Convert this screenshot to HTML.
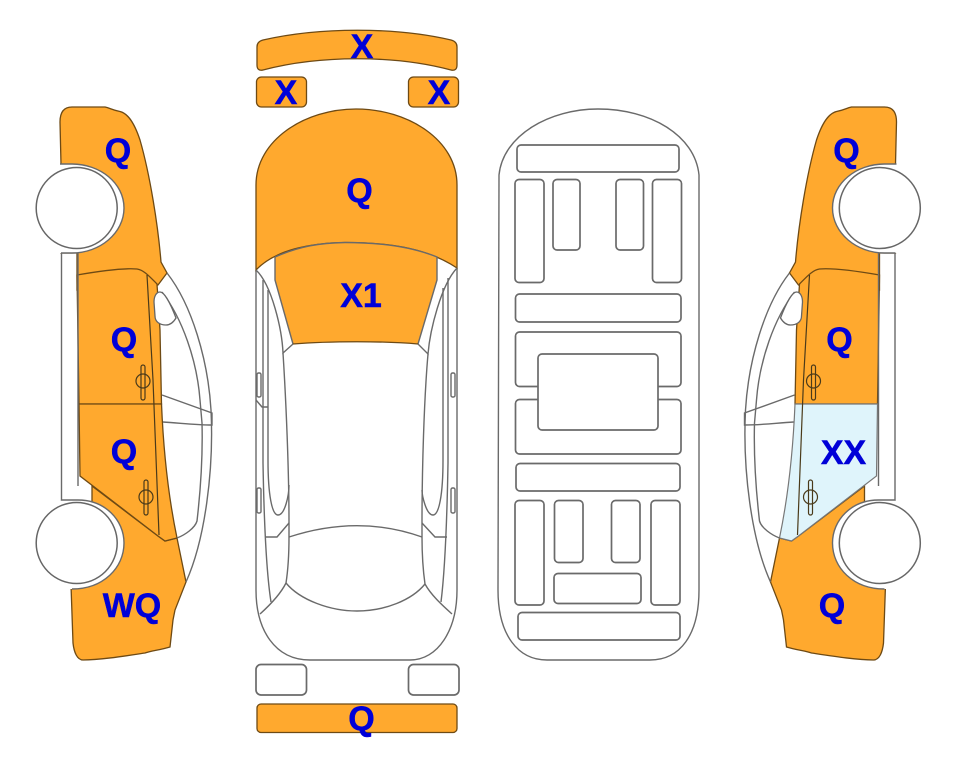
<!DOCTYPE html>
<html><head><meta charset="utf-8"><style>
html,body{margin:0;padding:0;background:#fff}
svg{display:block}
text{font-family:"Liberation Sans",Arial,sans-serif;font-weight:bold;font-size:34px;fill:#0000d8;stroke:#0000d8;stroke-width:.5;text-anchor:middle}
.o{fill:#ffa92e;stroke:#6e4a14;stroke-width:1.3}
.n{fill:#ffa92e;stroke:none}
.b{fill:#dff4fb;stroke:#777;stroke-width:1.2}
.l{fill:none;stroke:#6a6a6a;stroke-width:1.4}
.w{fill:#fff;stroke:#666;stroke-width:1.5}
.g{fill:#fff;stroke:#6a6a6a;stroke-width:1.7}
.d{fill:none;stroke:#4a3a1a;stroke-width:1.2}
</style></head><body>
<svg width="963" height="768" viewBox="0 0 963 768" xmlns="http://www.w3.org/2000/svg">
<defs>
<path id="front" d="M61,164 L60,122 C60,112 64,107 72,107 L105,107 C110,108 112,110 120,111.500 C130,114 136,128 140,140 C150,175 158,225 161,262 L167,273 L158,285 L77,290 L77,253 L61,253 Z"/>
<path id="door1" d="M77,275 C100,271 125,268 137,269 C144,270 150,277 157,284 L160,330 L161.500,404 L79,404 Z"/>
<path id="door2" d="M79,404 L161.500,404 C163,440 167,490 177,538 L165,541 L158,536 L80,476 Z"/>
<path id="rear" d="M92,486 L158,536 L165,541 L177,538 L186,582 L175,610 L173,620 L170,647 C160,650 150,651 145,653 C125,656 100,660 83,660 C77,660 74,652 73,643 L71,585 L92,540 Z"/>
<g id="lines">
<path class="l" d="M61.500,253 V501 M78,253 V486"/>
<path class="l" d="M167,273 C192,305 208,360 211,410 C214,470 205,540 186,582"/>
<path class="l" d="M162,292 C182,318 197,360 200,400 L202,423"/>
<path class="l" d="M202,423 C203,460 200,495 197,521 C195,528 185,535 177,538"/>
<path class="l" d="M162,395 L212,413 V425 C195,425 180,423 163,422"/>
<path d="M160,292 C164,292 170,302 176,318 C173,323 170,325 166,325 C160,325 155,322 155,316 L154,302 C154,297 156,292 160,292 Z" fill="#fff" stroke="#666" stroke-width="1.300"/>
<path class="d" d="M147,275 L153,380 L159,535"/>
<rect class="d" x="141" y="365" width="4" height="35" rx="2"/>
<circle class="d" cx="143" cy="381" r="7"/>
<rect class="d" x="144" y="480" width="4" height="35" rx="2"/>
<circle class="d" cx="146" cy="497" r="7"/>
<path d="M60,164 H72 C100,164 124,183 124,208 C124,233 100,253 72,253 H60 Z" fill="#fff" stroke="none"/>
<path class="l" d="M60,164 H72 C100,164 124,183 124,208 C124,233 100,253 72,253 H61"/>
<path d="M61,500 H78 C105,500 124,520 124,543 C124,568 103,589 72,589 H61 Z" fill="#fff" stroke="none"/>
<path class="l" d="M61,500 H78 C105,500 124,520 124,543 C124,568 103,589 72,589"/>
<circle class="w" cx="76.700" cy="208" r="40.500"/>
<circle class="w" cx="76.700" cy="543" r="40.500"/>
</g>
</defs>

<!-- left side view -->
<use href="#front" class="o"/><use href="#rear" class="o"/><use href="#door1" class="o"/><use href="#door2" class="o"/>
<use href="#lines"/>

<!-- right side view -->
<g transform="translate(956.500,0) scale(-1,1)">
<use href="#front" class="o"/><use href="#rear" class="o"/><use href="#door1" class="o"/><use href="#door2" class="b"/>
<use href="#lines"/>
</g>

<!-- centre top view -->
<path class="o" d="M257,47 C257,43 259,41 263,40 C320,27 395,27 451,40 C455,41 457,43 457,47 V65 C457,69 455,71 451,70 C395,55 320,55 263,70 C259,71 257,69 257,65 Z"/>
<rect class="o" x="256.500" y="77" width="50" height="30" rx="5"/>
<rect class="o" x="408.500" y="77" width="50" height="30" rx="5"/>
<rect class="g" x="256" y="664.500" width="50.500" height="30.500" rx="5"/>
<rect class="g" x="408.500" y="664.500" width="50.500" height="30.500" rx="5"/>
<rect class="o" x="257" y="704" width="200" height="28.500" rx="4"/>

<path class="l" d="M256,270 V590 C256,630 275,660 310,660 H410 C438,660 457,630 457,590 V268"/>
<path class="o" d="M256,270 V185 C256,140 305,109 356,109 C408,109 457,140 457,185 V268 C430,250 395,242.500 345,242.500 C310,243 275,250 256,270 Z"/>
<path class="n" d="M275,257 C300,246 320,243 345,242.500 C385,242.500 415,248 437,257 L437,280 L418,344 C385,341 330,341 293,344 L275,280 Z"/>
<path class="l" d="M275,257 C300,246 320,243 345,242.500 C385,242.500 415,248 437,257 L437,280 L418,344 M275,257 L275,280 L293,344"/>
<path d="M293,344 C330,341 385,341 418,344" fill="none" stroke="#6e4a14" stroke-width="1.300"/>
<path class="l" d="M256,270 C272,285 282,330 283,353 L293,344 M457,268 C441,285 430,330 428,354 L418,344"/>
<path class="l" d="M283,353 C286,400 289,470 289,523 V537 C289,555 288,570 286,583 M428,354 C424,400 422,470 422,523 V537 C422,555 423,570 425,584"/>
<path class="l" d="M263,280 L263,463 C264,520 266,570 271,602 M268,290 V460 C268,495 272,515 278,515 C285,515 289,495 289,485"/>
<path class="l" d="M448,278 L448,463 C447,520 445,570 441,602 M443,288 V460 C443,495 439,515 433,515 C426,515 422,495 422,490"/>
<path class="l" d="M256,400 L262,407 H268 M265,537 H277 L289,523 M447,537 H435 L422,523"/>
<path class="l" d="M289,537 C335,522 380,522 422,537 M286,583 C300,600 330,611 357,611 C385,611 412,600 425,584"/>
<path class="l" d="M260,614 C270,605 280,595 286,583 M452,614 C442,605 431,595 425,584"/>
<rect class="l" x="257" y="373" width="4" height="24" rx="1.500"/>
<rect class="l" x="257" y="488" width="4" height="25" rx="1.500"/>
<rect class="l" x="451" y="373" width="4" height="24" rx="1.500"/>
<rect class="l" x="451" y="488" width="4" height="25" rx="1.500"/>

<!-- underside -->
<path class="l" d="M499,175 C503,135 550,109 598,109 C650,109 695,135 699,175 V590 C699,635 680,660 650,660 H547 C518,660 498,635 498,590 Z"/>
<g class="g">
<rect x="517" y="145" width="162" height="27" rx="4"/>
<rect x="515" y="179.500" width="29" height="103" rx="4"/>
<rect x="553" y="179.500" width="27" height="70.500" rx="4"/>
<rect x="616" y="179.500" width="27.500" height="70.500" rx="4"/>
<rect x="652.500" y="179.500" width="29" height="103" rx="4"/>
<rect x="515.500" y="294" width="165.500" height="28" rx="4"/>
<rect x="515.500" y="332" width="165.500" height="54.500" rx="4"/>
<rect x="515.500" y="399.500" width="165.500" height="54.500" rx="4"/>
<rect x="538" y="354" width="120" height="76" rx="4"/>
<rect x="516" y="463.500" width="164" height="27.500" rx="4"/>
<rect x="515" y="500.500" width="29" height="104.500" rx="4"/>
<rect x="554.500" y="500.500" width="28.500" height="62" rx="4"/>
<rect x="611.500" y="500.500" width="28.500" height="62" rx="4"/>
<rect x="651" y="500.500" width="29" height="104.500" rx="4"/>
<rect x="554" y="573.500" width="87" height="30" rx="4"/>
<rect x="518" y="612.500" width="162" height="27.500" rx="4"/>
</g>

<text x="362" y="58">X</text>
<text x="286" y="104">X</text>
<text x="439" y="104">X</text>
<text x="359.500" y="202">Q</text>
<text x="361" y="307">X1</text>
<text x="361.500" y="730">Q</text>
<text x="118" y="162">Q</text>
<text x="124" y="351">Q</text>
<text x="124" y="463">Q</text>
<text x="132" y="617">WQ</text>
<text x="846.500" y="162">Q</text>
<text x="839.500" y="351">Q</text>
<text x="843.500" y="464">XX</text>
<text x="832" y="617">Q</text>
</svg>
</body></html>
